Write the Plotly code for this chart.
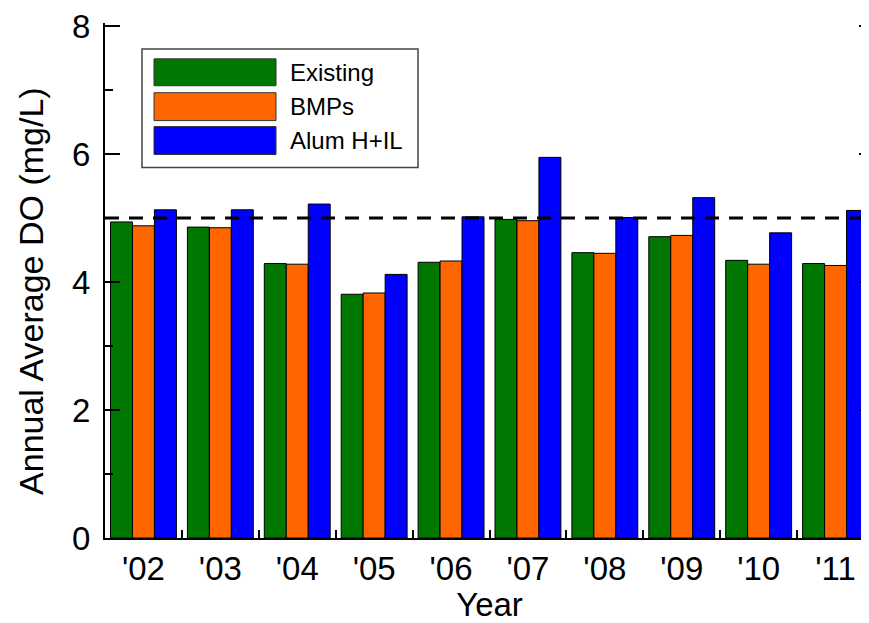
import plotly.graph_objects as go

# ---- data ----
years = ["'02", "'03", "'04", "'05", "'06", "'07", "'08", "'09", "'10", "'11"]
existing = [4.94, 4.86, 4.29, 3.81, 4.31, 4.98, 4.46, 4.71, 4.34, 4.29]
bmps = [4.88, 4.85, 4.28, 3.83, 4.33, 4.96, 4.45, 4.73, 4.28, 4.26]
alum = [5.13, 5.13, 5.22, 4.12, 5.02, 5.95, 5.01, 5.32, 4.77, 5.12]
series_names = ["Existing", "BMPs", "Alum H+IL"]
do_standard = 5.0
y_ticks = [0, 2, 4, 6, 8]

colors = ["#007700", "#FF6600", "#0000FF"]
FONT = "Liberation Sans, Arial, sans-serif"

OFF = 8  # page body margin
W, H = 866, 615
ML, MR, MT, MB = 97, 0, 13, 85
PW, PH = W - ML - MR, H - MT - MB
Y_RANGE = [0, 8.05]


def px_x(p):
    return (p - OFF - ML) / PW


def px_y(p):
    return (H - MB - (p - OFF)) / PH


fig = go.Figure()
for name, vals, col in zip(series_names, [existing, bmps, alum], colors):
    fig.add_trace(go.Bar(
        x=years, y=vals, name=name, showlegend=False,
        marker=dict(color=col, line=dict(color="black", width=1)),
    ))

# invisible trace so the mirrored right axis gets drawn
fig.add_trace(go.Scatter(x=years, y=alum, yaxis="y2", mode="markers",
                         marker=dict(opacity=0), showlegend=False, hoverinfo="skip"))

tickfont = dict(family=FONT, size=33, color="black")
minor_ticks = dict(tickmode="linear", tick0=0, dtick=1, ticks="inside", ticklen=8,
                   tickwidth=2, tickcolor="black", showgrid=False)

fig.update_layout(
    width=W, height=H,
    margin=dict(l=ML, r=MR, t=MT, b=MB, pad=0),
    paper_bgcolor="white", plot_bgcolor="white",
    barmode="group", bargap=0.143, bargroupgap=0,
    font=dict(family=FONT, color="black"),
    xaxis=dict(
        type="category", range=[-0.5, 9.5],
        showline=True, linecolor="black", linewidth=2,
        ticks="inside", tickson="boundaries", ticklen=8, tickwidth=2, tickcolor="black",
        tickfont=tickfont, showgrid=False, zeroline=False, layer="above traces",
        title=dict(text="Year", font=dict(family=FONT, size=33), standoff=2),
    ),
    yaxis=dict(
        range=Y_RANGE, tickvals=y_ticks, ticktext=[str(v) for v in y_ticks],
        showline=True, linecolor="black", linewidth=2,
        ticks="inside", ticklen=15, tickwidth=2, tickcolor="black",
        minor=minor_ticks,
        tickfont=tickfont, showgrid=False, zeroline=False, layer="above traces",
        ticklabelstandoff=6, ticklabeloverflow="allow",
    ),
    yaxis2=dict(
        overlaying="y", side="right", range=Y_RANGE, tickvals=y_ticks,
        showline=False, showticklabels=False, showgrid=False, zeroline=False,
        ticks="inside", ticklen=15, tickwidth=2, tickcolor="black",
        minor=minor_ticks,
    ),
)

shapes = [
    dict(type="line", xref="paper", yref="y", x0=0, x1=1, y0=do_standard, y1=do_standard,
         line=dict(color="black", width=3, dash="14px,10px"), layer="above"),
    dict(type="rect", xref="paper", yref="paper",
         x0=px_x(142), x1=px_x(418), y0=px_y(166), y1=px_y(47),
         line=dict(color="#444444", width=1.5), fillcolor="white", layer="above"),
]
annotations = [
    dict(xref="paper", yref="paper", x=px_x(31), y=px_y(290),
         text="Annual Average DO (mg/L)", textangle=-90, showarrow=False,
         xanchor="center", yanchor="middle",
         font=dict(family=FONT, size=34, color="black")),
]
rows = [(57, 84), (91, 119), (125, 153)]
for (t, b), name, col in zip(rows, series_names, colors):
    shapes.append(dict(type="rect", xref="paper", yref="paper",
                       x0=px_x(154), x1=px_x(276), y0=px_y(b), y1=px_y(t),
                       line=dict(color="#333333", width=1), fillcolor=col, layer="above"))
    annotations.append(dict(xref="paper", yref="paper", x=px_x(288), y=px_y((t + b) / 2),
                            text=name, showarrow=False, xanchor="left", yanchor="middle",
                            font=dict(family=FONT, size=24, color="black")))

fig.update_layout(shapes=shapes, annotations=annotations)
fig.write_html("out.html")
